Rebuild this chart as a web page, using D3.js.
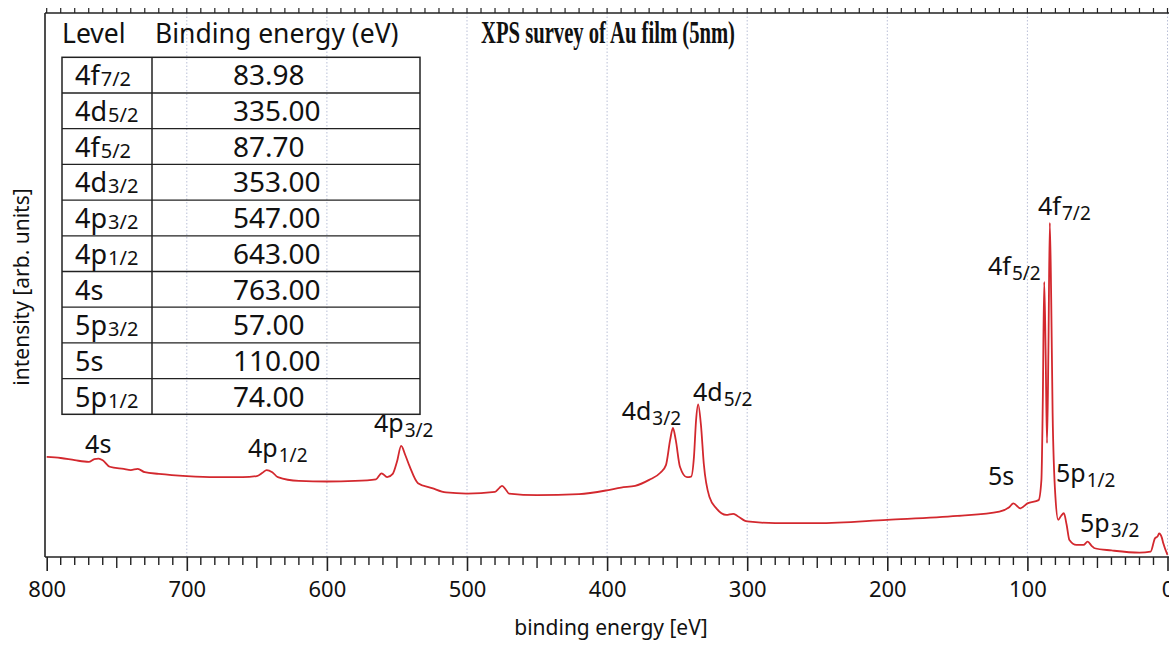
<!DOCTYPE html>
<html>
<head>
<meta charset="utf-8">
<script src="https://cdn.jsdelivr.net/npm/d3@7"></script>
<style>
  html, body { margin: 0; padding: 0; background: #fff; }
  svg { display: block; }
  text { font-family: "Noto Sans", "DejaVu Sans", sans-serif; fill: #111; }
</style>
</head>
<body>
<svg id="chart" width="1169" height="647"></svg>
<script>
// ---- data ----
const energies = [800,790,780,770,766,763,760,755,745,740,735,730,720,700,680,660,650,646,643,639,635,620,600,580,565,561,557,553,550,547,544,541,535,525,515,500,480,477,475,472,470,450,420,400,390,380,370,362,358,355,353,351,348,343,340,338,336.5,335,333,331,327,322,315,310,307,300,280,250,200,150,120,113,110,105,100,92,90,89,88,87,86,85,84,83,82,80,78,76,74,72,70,65,60,57,54,52,40,20,12,9,7,6,4,3,0];
const intensity = [18.3,18.1,17.7,17.4,17.9,18.0,17.7,16.5,16.1,15.9,16.1,15.5,15.2,14.8,14.6,14.6,14.8,15.4,15.9,15.5,14.6,13.9,13.8,13.9,14.2,15.3,14.6,15.2,17.4,20.3,18.6,16.6,13.5,12.6,11.8,11.6,11.9,12.6,13.0,12.2,11.6,11.3,11.5,12.2,12.7,13.0,14.1,15.4,16.8,21.4,23.6,21.4,16.5,14.6,14.7,18.3,25.0,27.9,24.1,17.1,11.0,8.9,7.7,7.9,7.5,6.5,6.2,6.2,6.8,7.5,8.3,9.1,9.8,8.9,9.8,10.4,14.1,28.7,50.3,37.8,20.8,37.8,61.1,47.0,26.3,11.0,6.8,7.5,8.0,5.9,3.1,2.2,2.2,2.8,2.0,1.6,1.2,0.8,1.0,3.4,3.8,4.3,3.5,2.5,0.4];

const tickValues = [800,700,600,500,400,300,200,100,0];
const gridValues = [700,600,500,400,300,200,100,0];

const tableLevels = ["4f","4d","4f","4d","4p","4p","4s","5p","5s","5p"];
const tableSubs   = ["7/2","5/2","5/2","3/2","3/2","1/2","","3/2","","1/2"];
const tableValues = ["83.98","335.00","87.70","353.00","547.00","643.00","763.00","57.00","110.00","74.00"];

const peakNames = ["4f","4f","5s","5p","5p","4d","4d","4p","4p","4s"];
const peakSubs  = ["7/2","5/2","","1/2","3/2","3/2","5/2","3/2","1/2",""];
const peakE     = [92.4,128.1,128.1,79.6,62.5,389.6,338.7,566.4,656.3,772.6];
const peakI     = [62.5,51.6,13.2,13.7,4.6,25.0,28.6,22.9,18.3,19.0];

const titleText = "XPS survey of Au film (5nm)";
const xLabel = "binding energy [eV]";
const yLabel = "intensity [arb. units]";

// ---- layout ----
const svg = d3.select("#chart");
const left = 45, plotTop = 13, plotBottom = 557;
const x = d3.scaleLinear().domain([800, 0]).range([46.7, 1167.5]);
const y = d3.scaleLinear().domain([0, 100]).range([557, 10]);

// grid
svg.append("g").selectAll("line").data(gridValues).join("line")
  .attr("x1", d => x(d)).attr("x2", d => x(d))
  .attr("y1", plotTop).attr("y2", plotBottom)
  .attr("stroke", "#b9bfd6").attr("stroke-width", 1)
  .attr("stroke-dasharray", "1.5,2");

// bottom axis: major ticks
const bottom = svg.append("g").attr("transform", `translate(0,${plotBottom})`);
bottom.call(d3.axisBottom(x).tickValues(tickValues).tickSize(14).tickPadding(10).tickFormat(d3.format("d")));
bottom.select(".domain").remove();
bottom.selectAll(".tick line").attr("stroke", "#222").attr("stroke-width", 1.6);
bottom.selectAll(".tick text").attr("font-size", 22).attr("font-family", "Noto Sans").attr("fill", "#111");
// minor ticks
const minorVals = d3.range(0, 801, 10).filter(v => v % 100 !== 0);
bottom.selectAll("line.minor").data(minorVals).join("line").attr("class", "minor")
  .attr("x1", d => x(d)).attr("x2", d => x(d))
  .attr("y1", 0).attr("y2", d => d % 50 === 0 ? 11 : 8)
  .attr("stroke", "#222").attr("stroke-width", 1.4);

// top axis ticks
const topVals = d3.range(0, 801, 10);
svg.append("g").selectAll("line").data(topVals).join("line")
  .attr("x1", d => x(d)).attr("x2", d => x(d))
  .attr("y1", plotTop - 5).attr("y2", plotTop)
  .attr("stroke", "#222").attr("stroke-width", 1.2);

// frame lines
svg.append("line").attr("x1", left).attr("x2", 1169).attr("y1", plotBottom).attr("y2", plotBottom)
  .attr("stroke", "#222").attr("stroke-width", 1.6);
svg.append("line").attr("x1", left).attr("x2", 1169).attr("y1", plotTop).attr("y2", plotTop)
  .attr("stroke", "#222").attr("stroke-width", 1.4);
svg.append("line").attr("x1", left).attr("x2", left).attr("y1", plotTop).attr("y2", plotBottom)
  .attr("stroke", "#222").attr("stroke-width", 1.6);

// spectrum
const data = energies.map((e, i) => ({e, v: intensity[i]}));
svg.append("path").datum(data)
  .attr("fill", "none").attr("stroke", "#d3282e").attr("stroke-width", 1.8)
  .attr("stroke-linejoin", "round")
  .attr("d", d3.line().x(d => x(d.e)).y(d => y(d.v)).curve(d3.curveMonotoneX));

// axis labels
svg.append("text").attr("x", 611).attr("y", 635).attr("text-anchor", "middle")
  .attr("font-size", 21).text(xLabel);
svg.append("text").attr("transform", "translate(29,287) rotate(-90)").attr("text-anchor", "middle")
  .attr("font-size", 21).text(yLabel);

// title
svg.append("text").attr("x", 481).attr("y", 43)
  .attr("font-weight", "bold").attr("font-size", 31)
  .attr("textLength", 254).attr("lengthAdjust", "spacingAndGlyphs")
  .style("font-family", "'Liberation Serif', serif")
  .text(titleText);

// peak labels
const pl = svg.append("g");
peakNames.forEach((n, i) => {
  const t = pl.append("text").attr("x", x(peakE[i])).attr("y", y(peakI[i])).attr("font-size", 25);
  t.append("tspan").text(n);
  if (peakSubs[i]) t.append("tspan").attr("font-size", 19).attr("dy", 5).attr("dx", 1).text(peakSubs[i]);
});

// table
const tx0 = 62, tx1 = 152, tx2 = 420, ty0 = 57.3, rowH = 35.7;
const tbl = svg.append("g");
tbl.append("text").attr("x", 62).attr("y", 43).attr("font-size", 26.5).text("Level");
tbl.append("text").attr("x", 155).attr("y", 43).attr("font-size", 26.5).text("Binding energy (eV)");
tbl.append("rect").attr("x", tx0).attr("y", ty0).attr("width", tx2 - tx0).attr("height", rowH * tableLevels.length)
  .attr("fill", "none").attr("stroke", "#222").attr("stroke-width", 1.5);
tbl.append("line").attr("x1", tx1).attr("x2", tx1).attr("y1", ty0).attr("y2", ty0 + rowH * tableLevels.length)
  .attr("stroke", "#222").attr("stroke-width", 1.5);
tbl.selectAll("line.row").data(d3.range(1, tableLevels.length)).join("line").attr("class", "row")
  .attr("x1", tx0).attr("x2", tx2).attr("y1", d => ty0 + d * rowH).attr("y2", d => ty0 + d * rowH)
  .attr("stroke", "#222").attr("stroke-width", 1.3);
tableLevels.forEach((lv, i) => {
  const by = ty0 + i * rowH + 28;
  const t = tbl.append("text").attr("x", 75).attr("y", by).attr("font-size", 27);
  t.append("tspan").text(lv);
  if (tableSubs[i]) t.append("tspan").attr("font-size", 20).attr("dy", 1).attr("dx", 1).text(tableSubs[i]);
  tbl.append("text").attr("x", 233).attr("y", by).attr("font-size", 28).text(tableValues[i]);
});
</script>
</body>
</html>
